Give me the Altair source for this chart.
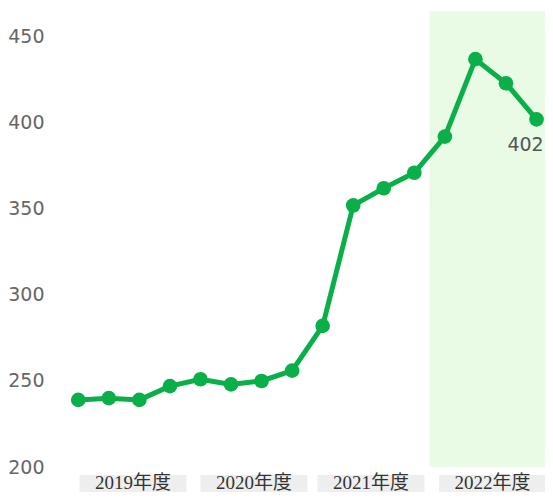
import altair as alt
import pandas as pd

# ---- data ----
quarters = list(range(1, 17))
values = [239, 240, 239, 247, 251, 248, 250, 256, 282, 352, 362, 371, 392, 437, 423, 402]
years = ["2019年度", "2020年度", "2021年度", "2022年度"]
year_centers = [2.79, 6.75, 10.58, 14.56]
y_ticks = [200, 250, 300, 350, 400, 450]
highlight_start = [12.5]
last_label = ["402"]

W, H = 482, 456
STEP = 30.55
GREEN = "#0aaf4a"

df = pd.DataFrame({"q": quarters, "v": values})
ydf = pd.DataFrame({"year": years, "c": year_centers})
ydf["s"] = ydf["c"] - 1.75
ydf["e"] = ydf["c"] + 1.75
hdf = pd.DataFrame({"s": highlight_start})
ldf = pd.DataFrame({"q": [quarters[-1]], "v": [values[-1]], "t": last_label})

xs = alt.Scale(domain=[0.5, 0.5 + W / STEP], nice=False, zero=False)
ys = alt.Scale(domain=[200, 465], nice=False, zero=False)

green = alt.Chart(hdf).mark_rect(color="#e9fbe5").encode(
    x=alt.X("s:Q", scale=xs, axis=None),
    x2=alt.value(W),
    y=alt.value(0),
    y2=alt.value(H),
)

yaxis = alt.Axis(values=y_ticks, grid=False, domain=False, ticks=False, tickSize=0,
                 labelFont="DejaVu Sans", labelFontSize=19, labelColor="#666666",
                 labelPadding=19, title=None)

line = alt.Chart(df).mark_line(color=GREEN, strokeWidth=5).encode(
    x=alt.X("q:Q", scale=xs, axis=None),
    y=alt.Y("v:Q", scale=ys, axis=yaxis),
)
pts = alt.Chart(df).mark_circle(color=GREEN, size=215, opacity=1).encode(
    x=alt.X("q:Q", scale=xs, axis=None),
    y=alt.Y("v:Q", scale=ys),
)
lbl = alt.Chart(ldf).mark_text(font="DejaVu Sans", fontSize=19, color="#555555",
                               dx=-11, dy=26).encode(
    x=alt.X("q:Q", scale=xs, axis=None),
    y=alt.Y("v:Q", scale=ys),
    text="t:N",
)
boxes = alt.Chart(ydf).mark_rect(color="#eeeeee").encode(
    x=alt.X("s:Q", scale=xs, axis=None),
    x2="e:Q",
    y=alt.value(H + 8),
    y2=alt.value(H + 40),
)
btext = alt.Chart(ydf).mark_text(font="Liberation Serif, Noto Sans CJK JP", fontSize=19,
                                 color="#333333", baseline="middle").encode(
    x=alt.X("c:Q", scale=xs, axis=None),
    y=alt.value(H + 16),
    text="year:N",
)

chart = alt.layer(green, boxes, btext, line, pts, lbl).properties(
    width=W, height=H,
    autosize=alt.AutoSizeParams(type="none"),
    padding={"left": 55, "top": 3, "right": 0, "bottom": 25},
).configure_view(stroke=None)

chart.save("out.html", embed_options={"renderer": "svg", "actions": False})
